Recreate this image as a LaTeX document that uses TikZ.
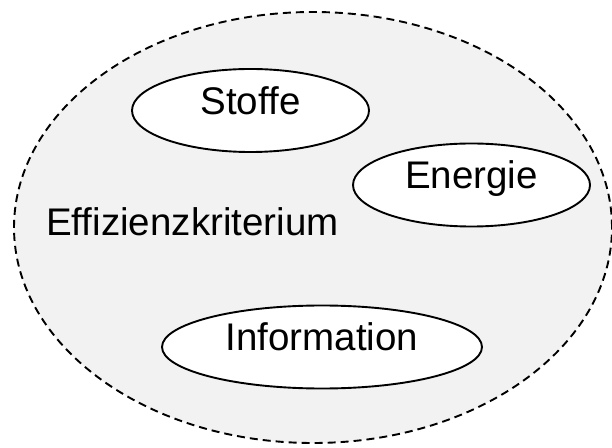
\documentclass[tikz,border=0pt]{standalone}
\usepackage{fontspec}
\setmainfont{Liberation Sans}
\usetikzlibrary{shapes.geometric}
\definecolor{areafill}{HTML}{F2F2F2}
\tikzset{
  x=1pt, y=1pt,
  labeltext/.style={font=\fontsize{38.5}{40}\selectfont, text height=0.716em, text depth=0pt, inner sep=0pt},
  flowbox/.style={ellipse, draw=black, line width=1.9pt, fill=white, labeltext},
  outerarea/.style={draw=black, line width=1.9pt, dash pattern=on 8pt off 5pt, fill=areafill}
}
\begin{document}
\begin{tikzpicture}
  \useasboundingbox (0,0) rectangle (612,447);
  % surrounding dashed region
  \draw[outerarea] (313,219.5) ellipse [x radius=299, y radius=215.5];
  % the three flows
  \node[flowbox, minimum width=237pt, minimum height=83pt] (stoffe) at (250.5,336.5) {Stoffe};
  \node[flowbox, minimum width=237pt, minimum height=83pt] (energie) at (471.5,262) {Energie};
  \node[flowbox, minimum width=320pt, minimum height=83pt] (information) at (322,100) {Information};
  % criterion label
  \node[labeltext, anchor=west] (kriterium) at (46,215.5) {Effizienzkriterium};
\end{tikzpicture}
\end{document}
